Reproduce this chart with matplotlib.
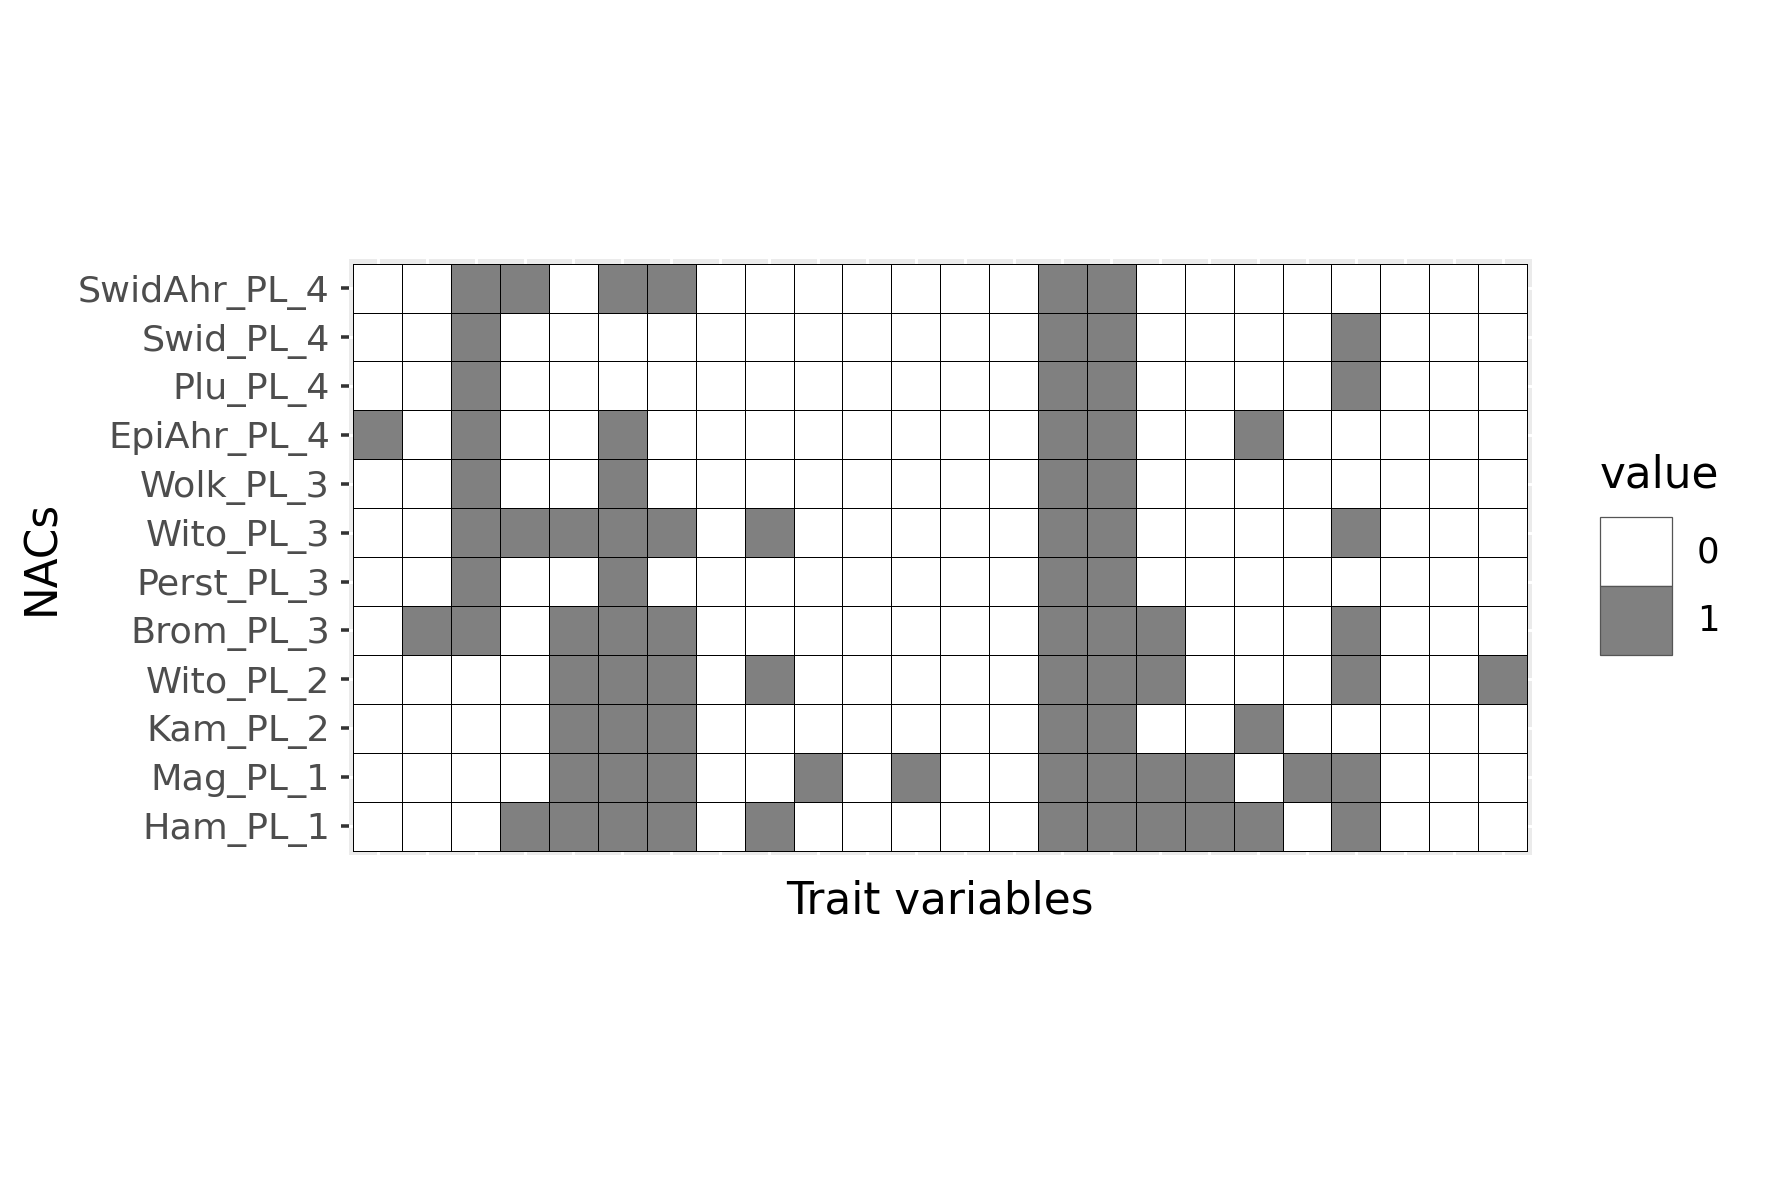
import numpy as np
import matplotlib
matplotlib.use("Agg")
import matplotlib.pyplot as plt
from matplotlib.colors import ListedColormap
from matplotlib.patches import Patch

# --- data: presence (1) / absence (0) of 24 trait variables per NAC ---
nacs = ["SwidAhr_PL_4", "Swid_PL_4", "Plu_PL_4", "EpiAhr_PL_4", "Wolk_PL_3",
        "Wito_PL_3", "Perst_PL_3", "Brom_PL_3", "Wito_PL_2", "Kam_PL_2",
        "Mag_PL_1", "Ham_PL_1"]
n_traits = 24

values = [
    [0, 0, 1, 1, 0, 1, 1, 0, 0, 0, 0, 0, 0, 0, 1, 1, 0, 0, 0, 0, 0, 0, 0, 0],
    [0, 0, 1, 0, 0, 0, 0, 0, 0, 0, 0, 0, 0, 0, 1, 1, 0, 0, 0, 0, 1, 0, 0, 0],
    [0, 0, 1, 0, 0, 0, 0, 0, 0, 0, 0, 0, 0, 0, 1, 1, 0, 0, 0, 0, 1, 0, 0, 0],
    [1, 0, 1, 0, 0, 1, 0, 0, 0, 0, 0, 0, 0, 0, 1, 1, 0, 0, 1, 0, 0, 0, 0, 0],
    [0, 0, 1, 0, 0, 1, 0, 0, 0, 0, 0, 0, 0, 0, 1, 1, 0, 0, 0, 0, 0, 0, 0, 0],
    [0, 0, 1, 1, 1, 1, 1, 0, 1, 0, 0, 0, 0, 0, 1, 1, 0, 0, 0, 0, 1, 0, 0, 0],
    [0, 0, 1, 0, 0, 1, 0, 0, 0, 0, 0, 0, 0, 0, 1, 1, 0, 0, 0, 0, 0, 0, 0, 0],
    [0, 1, 1, 0, 1, 1, 1, 0, 0, 0, 0, 0, 0, 0, 1, 1, 1, 0, 0, 0, 1, 0, 0, 0],
    [0, 0, 0, 0, 1, 1, 1, 0, 1, 0, 0, 0, 0, 0, 1, 1, 1, 0, 0, 0, 1, 0, 0, 1],
    [0, 0, 0, 0, 1, 1, 1, 0, 0, 0, 0, 0, 0, 0, 1, 1, 0, 0, 1, 0, 0, 0, 0, 0],
    [0, 0, 0, 0, 1, 1, 1, 0, 0, 1, 0, 1, 0, 0, 1, 1, 1, 1, 0, 1, 1, 0, 0, 0],
    [0, 0, 0, 1, 1, 1, 1, 0, 1, 0, 0, 0, 0, 0, 1, 1, 1, 1, 1, 0, 1, 0, 0, 0],
]
legend_labels = ["0", "1"]
fill_colors = ["#FFFFFF", "#808080"]

# --- figure ---
fig = plt.figure(figsize=(1771 / 150, 1181 / 150), dpi=150)
ax = fig.add_axes([0.1968, 0.2757, 0.6682, 0.5052])

cmap = ListedColormap(fill_colors)
ax.pcolormesh(np.arange(n_traits + 1), np.arange(len(nacs) + 1), np.array(values),
              cmap=cmap, vmin=0, vmax=1, edgecolors="black", linewidth=0.35)

ax.set_xlim(-0.1, n_traits + 0.1)
ax.set_ylim(len(nacs) + 0.1, -0.1)

ax.set_facecolor("#EBEBEB")
ax.set_axisbelow(True)
ax.grid(True, color="white", linewidth=1.4)
for s in ax.spines.values():
    s.set_visible(False)

ax.set_xticks(np.arange(n_traits) + 0.5)
ax.set_xticklabels([])
ax.tick_params(axis="x", length=0)
ax.set_yticks(np.arange(len(nacs)) + 0.5)
ax.set_yticklabels(nacs, fontsize=17.5, color="#4D4D4D")
ax.tick_params(axis="y", length=4, width=1.7, color="#333333", pad=5)

ax.set_xlabel("Trait variables", fontsize=21, labelpad=8)
ax.set_ylabel("NACs", fontsize=21, labelpad=7)

handles = [Patch(facecolor=c, edgecolor="#555555", linewidth=0.6) for c in fill_colors]
leg = fig.legend(handles, legend_labels, title="value", loc="upper left",
                 bbox_to_anchor=(1600 / 1771, 1 - 453 / 1181), frameon=False,
                 fontsize=17, title_fontsize=21, handlelength=2.03, handleheight=2.63,
                 labelspacing=0, handletextpad=0.7, borderpad=0, borderaxespad=0)
leg._legend_box.align = "left"
leg._legend_box.sep = 10  # gap between title and keys

fig.savefig("out.png", dpi=150)
